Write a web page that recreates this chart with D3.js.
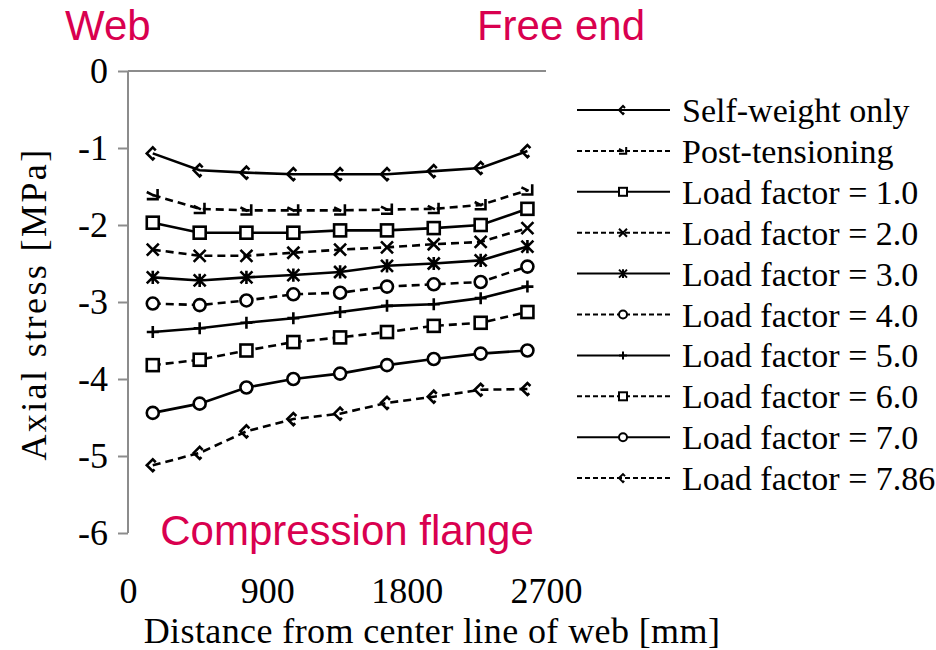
<!DOCTYPE html>
<html>
<head>
<meta charset="utf-8">
<script src="https://cdn.jsdelivr.net/npm/d3@7"></script>
<style>
  body { margin: 0; background: #fff; }
  svg { display: block; }
</style>
</head>
<body>
<svg id="chart" width="936" height="650"></svg>
<script>
// Measurement positions across the flange [mm]
const positions = [160, 463, 765, 1068, 1370, 1673, 1975, 2278, 2580];

// Axial stress [MPa] at each position, one array per load stage
const selfWeight   = [-1.07, -1.29, -1.32, -1.34, -1.34, -1.34, -1.30, -1.26, -1.04];
const postTension  = [-1.61, -1.79, -1.81, -1.81, -1.81, -1.80, -1.79, -1.74, -1.55];
const load10       = [-1.97, -2.10, -2.10, -2.10, -2.07, -2.07, -2.04, -2.00, -1.79];
const load20       = [-2.32, -2.40, -2.40, -2.36, -2.32, -2.29, -2.25, -2.22, -2.04];
const load30       = [-2.68, -2.72, -2.68, -2.65, -2.61, -2.53, -2.50, -2.46, -2.28];
const load40       = [-3.02, -3.04, -2.98, -2.90, -2.88, -2.80, -2.77, -2.74, -2.54];
const load50       = [-3.39, -3.34, -3.27, -3.21, -3.13, -3.05, -3.03, -2.95, -2.80];
const load60       = [-3.82, -3.75, -3.63, -3.52, -3.46, -3.39, -3.31, -3.27, -3.13];
const load70       = [-4.44, -4.32, -4.11, -4.00, -3.93, -3.82, -3.74, -3.67, -3.63];
const load786      = [-5.12, -4.96, -4.68, -4.52, -4.45, -4.31, -4.23, -4.14, -4.13];

const seriesNames = [
  "Self-weight only", "Post-tensioning", "Load factor = 1.0", "Load factor = 2.0",
  "Load factor = 3.0", "Load factor = 4.0", "Load factor = 5.0", "Load factor = 6.0",
  "Load factor = 7.0", "Load factor = 7.86"
];
const seriesValues = [selfWeight, postTension, load10, load20, load30, load40, load50, load60, load70, load786];
const seriesMarkers = ["diamond", "triangle", "square", "cross", "star", "circle", "plus", "square", "circle", "diamond"];
const seriesDashed = [false, true, false, true, false, true, false, true, false, true];

const xTicks = [0, 900, 1800, 2700];
const yTicks = [0, -1, -2, -3, -4, -5, -6];

const svg = d3.select("#chart");
const x = d3.scaleLinear().domain([0, 2700]).range([128, 546]);
const y = d3.scaleLinear().domain([0, -6]).range([71, 533]);

const serif = "'Liberation Serif', 'Times New Roman', serif";
const sans = "'Liberation Sans', Arial, sans-serif";
const accent = "#d9004f";
const axisGrey = "#8c8c8c";

// Y axis with outward ticks
const yAxis = svg.append("g")
  .attr("transform", `translate(${x(0)},0)`)
  .call(d3.axisLeft(y).tickValues(yTicks).tickSize(10).tickPadding(10).tickFormat(d => String(d)));
yAxis.select(".domain").attr("stroke", axisGrey).attr("stroke-width", 2)
  .attr("d", `M0,${y(0)}V${y(-6)}`);
yAxis.selectAll(".tick line").attr("stroke", axisGrey).attr("stroke-width", 2);
yAxis.selectAll(".tick text").attr("font-family", serif).attr("font-size", 36).attr("fill", "#000")
  .attr("x", -20);

// Horizontal axis line drawn at zero stress, labels placed below the plot
svg.append("line")
  .attr("x1", x(0)).attr("x2", x(2700)).attr("y1", y(0)).attr("y2", y(0))
  .attr("stroke", axisGrey).attr("stroke-width", 2);

const xAxis = svg.append("g")
  .attr("transform", `translate(0,${y(-6)})`)
  .call(d3.axisBottom(x).tickValues(xTicks).tickSize(0).tickPadding(44).tickFormat(d => String(d)));
xAxis.select(".domain").remove();
xAxis.selectAll(".tick text").attr("font-family", serif).attr("font-size", 36).attr("fill", "#000");

// Axis titles
svg.append("text")
  .attr("x", 432).attr("y", 643)
  .attr("text-anchor", "middle")
  .attr("font-family", serif).attr("font-size", 36)
  .attr("letter-spacing", 0.4)
  .text("Distance from center line of web [mm]");

svg.append("text")
  .attr("transform", `translate(46,${y(-3) + 2}) rotate(-90)`)
  .attr("text-anchor", "middle")
  .attr("font-family", serif).attr("font-size", 36)
  .attr("letter-spacing", 2.4)
  .text("Axial stress [MPa]");

// Region annotations
svg.append("text").attr("x", 65).attr("y", 40)
  .attr("font-family", sans).attr("font-size", 42).attr("fill", accent).text("Web");
svg.append("text").attr("x", 645).attr("y", 40).attr("text-anchor", "end")
  .attr("font-family", sans).attr("font-size", 42).attr("fill", accent).text("Free end");
svg.append("text").attr("x", 347).attr("y", 545).attr("text-anchor", "middle")
  .attr("font-family", sans).attr("font-size", 42).attr("fill", accent).text("Compression flange");

// Marker shapes
function drawMarker(g, type, s, sw) {
  const h = s / 2;
  g.attr("fill", "none").attr("stroke", "#000").attr("stroke-width", sw);
  if (type === "diamond") {
    g.append("path").attr("d", `M${h * 0.5},${-h * 0.5} L0,${-h} L${-h},0 L0,${h} L${h * 0.3},${h * 0.7}`);
  } else if (type === "triangle") {
    g.append("path").attr("d", `M${-h},${-h * 0.5} L${h * 0.2},${h * 0.1} M${h * 0.8},${-h} L${h * 0.8},${h * 0.7} L${-h},${h * 0.7}`);
  } else if (type === "square") {
    g.append("rect").attr("x", -h).attr("y", -h).attr("width", s).attr("height", s).attr("fill", "#fff");
  } else if (type === "cross") {
    g.append("path").attr("d", `M${-h},${-h} L${h},${h} M${-h},${h} L${h},${-h}`);
  } else if (type === "star") {
    g.append("path").attr("d", `M${-h},${-h} L${h},${h} M${-h},${h} L${h},${-h} M0,${-h * 1.1} L0,${h * 1.1}`);
  } else if (type === "circle") {
    g.append("circle").attr("r", h).attr("fill", "#fff");
  } else if (type === "plus") {
    g.append("path").attr("d", `M0,${-h} L0,${h} M${-h},0 L${h},0`);
  }
}

const line = d3.line().x(d => x(d[0])).y(d => y(d[1]));

// Data series
seriesValues.forEach((vals, i) => {
  const pts = positions.map((p, j) => [p, vals[j]]);
  const g = svg.append("g");
  g.append("path")
    .attr("d", line(pts))
    .attr("fill", "none")
    .attr("stroke", "#000")
    .attr("stroke-width", 2.6)
    .attr("stroke-dasharray", seriesDashed[i] ? "8,5" : null);
  pts.forEach(p => {
    const m = g.append("g").attr("transform", `translate(${x(p[0])},${y(p[1])})`);
    drawMarker(m, seriesMarkers[i], 12, 2.6);
  });
});

// Legend
const legend = svg.append("g");
seriesNames.forEach((name, i) => {
  const ly = 110 + i * 40.9;
  const row = legend.append("g").attr("transform", `translate(0,${ly})`);
  row.append("line")
    .attr("x1", 577).attr("x2", 670).attr("y1", 0).attr("y2", 0)
    .attr("stroke", "#000").attr("stroke-width", 2)
    .attr("stroke-dasharray", seriesDashed[i] ? "5,3" : null);
  const m = row.append("g").attr("transform", "translate(623,0)");
  drawMarker(m, seriesMarkers[i], 8, 2);
  row.append("text")
    .attr("x", 682).attr("y", 12)
    .attr("font-family", serif).attr("font-size", 34)
    .text(name);
});
</script>
</body>
</html>
